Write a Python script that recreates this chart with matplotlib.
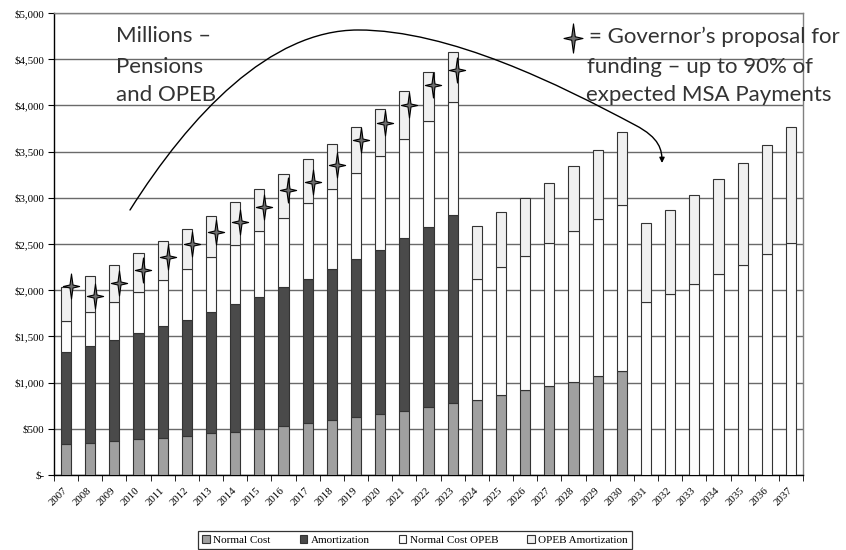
import numpy as np
import matplotlib
matplotlib.use("Agg")
import matplotlib.pyplot as plt
from matplotlib.path import Path
from matplotlib.patches import FancyArrowPatch
from matplotlib.ticker import FuncFormatter

# pension / OPEB costs, $ millions
years = [str(y) for y in range(2007, 2038)]
normal_cost = [332, 350, 365, 386, 404, 425, 451, 469, 501, 530, 563, 592, 631, 660, 696, 739, 776,
               812, 866, 916, 963, 1010, 1071, 1129, 0, 0, 0, 0, 0, 0, 0]
amortization = [1003, 1043, 1096, 1147, 1205, 1253, 1313, 1378, 1429, 1501, 1562, 1634, 1703, 1780, 1866, 1942, 2038,
                0, 0, 0, 0, 0, 0, 0, 0, 0, 0, 0, 0, 0, 0]
normal_cost_opeb = [335, 371, 411, 448, 501, 555, 599, 639, 714, 754, 815, 869, 938, 1013, 1071, 1150, 1220,
                    1306, 1382, 1458, 1545, 1631, 1700, 1790, 1872, 1962, 2064, 2172, 2273, 2389, 2508]
opeb_amortization = [368, 393, 404, 422, 423, 433, 440, 469, 455, 473, 476, 487, 498, 505, 523, 534, 548,
                     577, 595, 627, 656, 700, 743, 793, 852, 906, 970, 1032, 1107, 1186, 1262]
# governor's proposal (stars), 2007-2023
proposal = [2045, 1940, 2080, 2219, 2359, 2495, 2630, 2735, 2900, 3085, 3171, 3355, 3626, 3810, 4004, 4221, 4383]

series = [("Normal Cost", normal_cost, "#a0a0a0"),
          ("Amortization", amortization, "#4a4a4a"),
          ("Normal Cost OPEB", normal_cost_opeb, "#fcfcfc"),
          ("OPEB Amortization", opeb_amortization, "#f0f0f0")]

W, H = 846, 550
fig = plt.figure(figsize=(W / 100, H / 100), dpi=100)
ax = fig.add_axes([54 / W, 1 - 475 / H, (803 - 54) / W, (475 - 13) / H])

x = np.arange(len(years))
bottom = np.zeros(len(years))
for name, vals, col in series:
    vals = np.array(vals, dtype=float)
    ax.bar(x, vals, 0.42, bottom=bottom, color=col, edgecolor="#333333", linewidth=0.8,
           label=name, zorder=3)
    bottom += vals

# 4-point star marker
star = Path([(0, 1), (0.12, 0.12), (0.65, 0), (0.12, -0.12), (0, -1), (-0.12, -0.12),
             (-0.65, 0), (-0.12, 0.12), (0, 1)],
            [Path.MOVETO] + [Path.LINETO] * 7 + [Path.CLOSEPOLY])
ax.plot(np.arange(len(proposal)) + 0.2, proposal, linestyle="none", marker=star, markersize=18,
        markerfacecolor="#6e6e6e", markeredgecolor="black", markeredgewidth=0.8, zorder=5)

ax.set_xlim(-0.5, len(years) - 0.5)
ax.set_ylim(0, 5000)
ax.set_yticks(np.arange(0, 5001, 500))
ax.yaxis.set_major_formatter(FuncFormatter(lambda v, p: "$-" if v == 0 else "${:,.0f}".format(v)))
ax.grid(axis="y", color="#6a6a6a", linewidth=1.0, zorder=0)
ax.set_axisbelow(True)

ax.set_xticks(x)
ax.set_xticklabels(years, rotation=45, ha="right", va="center", rotation_mode="anchor")
ax.set_xticks(np.arange(-0.5, len(years), 1), minor=True)
ax.tick_params(axis="x", which="major", length=0, pad=10)
ax.tick_params(axis="x", which="minor", length=4, direction="out")
ax.tick_params(axis="y", length=4, direction="out", pad=3)
for lab in ax.get_xticklabels() + ax.get_yticklabels():
    lab.set_family("Liberation Serif")
    lab.set_fontsize(7.8)

for s in ["left", "bottom"]:
    ax.spines[s].set_color("black")
    ax.spines[s].set_linewidth(1.0)
for s in ["top", "right"]:
    ax.spines[s].set_color("#808080")
    ax.spines[s].set_linewidth(1.0)

leg = fig.legend(loc="center", bbox_to_anchor=(415 / W, 1 - 540 / H), ncol=4, frameon=True,
                 fancybox=False, edgecolor="black", prop={"family": "Liberation Serif", "size": 8},
                 handlelength=0.7, handleheight=0.7, handletextpad=0.3, columnspacing=2.6,
                 borderpad=0.35)
leg.get_frame().set_linewidth(0.9)


def fx(px):
    return px / W


def fy(py):
    return 1 - py / H


hand = {"family": "Lato", "fontsize": 16, "color": "#333333"}
fig.text(fx(116), fy(36), "Millions \u2013", va="center", **hand)
fig.text(fx(116), fy(67), "Pensions", va="center", **hand)
fig.text(fx(116), fy(95), "and OPEB", va="center", **hand)

fig.text(fx(589), fy(37), "= Governor\u2019s proposal for", va="center", **hand)
fig.text(fx(587), fy(67), "funding \u2013 up to 90% of", va="center", **hand)
fig.text(fx(586), fy(95), "expected MSA Payments", va="center", **hand)
fig.lines.append(plt.Line2D([fx(573)], [fy(38)], transform=fig.transFigure, marker=star,
                            markersize=21, markerfacecolor="#6e6e6e", markeredgecolor="black",
                            markeredgewidth=0.8, linestyle="none"))

# curved arrow
pts = [(130, 210), (190, 115), (270, 30), (358, 30),
       (450, 30), (560, 85), (635, 125),
       (660, 138), (662, 150), (662, 163)]
verts = [(fx(a), fy(b)) for a, b in pts]
codes = [Path.MOVETO] + [Path.CURVE4] * 9
arrow = FancyArrowPatch(path=Path(verts, codes), arrowstyle="-|>,head_length=3,head_width=1.5",
                        transform=fig.transFigure, color="black", linewidth=1.0)
fig.patches.append(arrow)

fig.savefig("out.png", dpi=100)
